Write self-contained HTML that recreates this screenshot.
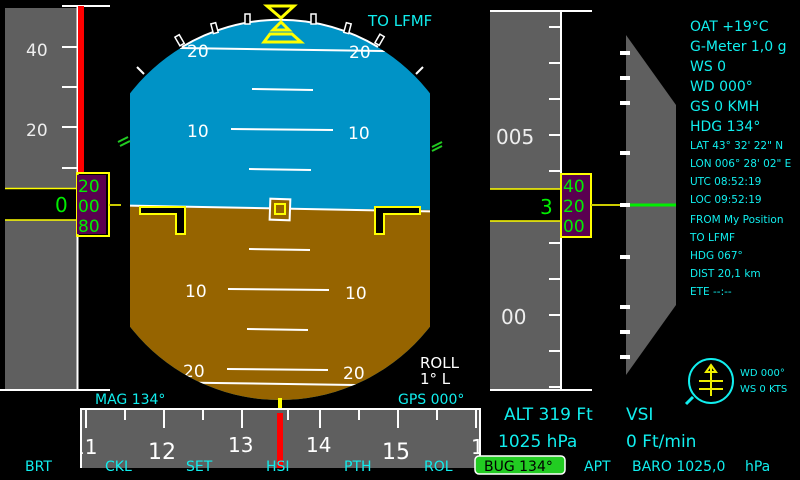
<!DOCTYPE html>
<html><head><meta charset="utf-8"><style>
html,body{margin:0;padding:0;background:#000;width:800px;height:480px;overflow:hidden}
svg{display:block}
text{font-family:"DejaVu Sans","Liberation Sans",sans-serif}
</style></head><body>
<svg width="800" height="480" viewBox="0 0 800 480" xmlns="http://www.w3.org/2000/svg">
<defs>
<clipPath id="adi"><path d="M130,0 H430 V480 H130 Z"/></clipPath>
<clipPath id="circ"><circle cx="280" cy="210" r="190"/></clipPath>
<clipPath id="hdg"><rect x="82" y="408" width="397" height="60"/></clipPath>
</defs>
<g clip-path="url(#adi)">
<g clip-path="url(#circ)">
<rect x="0" y="0" width="800" height="480" fill="#0093c6"/>
<polygon points="0,205 800,214 800,480 0,480" fill="#966400"/>
<line x1="100" y1="205" x2="460" y2="212" stroke="#fff" stroke-width="2"/>
<g stroke="#fff" stroke-width="2">
<line x1="180" y1="48" x2="385" y2="51"/>
<line x1="252" y1="89" x2="313" y2="90"/>
<line x1="231" y1="129" x2="333" y2="130"/>
<line x1="249" y1="169" x2="311" y2="170"/>
<line x1="249" y1="249" x2="310" y2="250"/>
<line x1="228" y1="289" x2="329" y2="290"/>
<line x1="247" y1="329" x2="308" y2="330"/>
<line x1="227" y1="369" x2="328" y2="370"/>
<line x1="150" y1="382" x2="420" y2="386"/>
</g>
<g fill="#fff" font-size="17">
<text x="187" y="57">20</text><text x="349" y="58">20</text>
<text x="187" y="137">10</text><text x="348" y="139">10</text>
<text x="185" y="297">10</text><text x="345" y="299">10</text>
<text x="183" y="377">20</text><text x="343" y="379">20</text>
</g>
</g>
</g>
<path d="M182,47 A190,190 0 0 1 378,47" fill="none" stroke="#fff" stroke-width="2"/>
<g fill="#000" stroke="#fff" stroke-width="1.5">
<rect x="177" y="35" width="5" height="10" transform="rotate(-30 180 40)"/>
<rect x="212" y="23" width="5" height="10" transform="rotate(-15 215 28)"/>
<rect x="245" y="14" width="5" height="10"/>
<rect x="311" y="14" width="5" height="10"/>
<rect x="345" y="23" width="5" height="10" transform="rotate(15 347 28)"/>
<rect x="377" y="35" width="5" height="10" transform="rotate(30 380 40)"/>
</g>
<line x1="137" y1="67" x2="144" y2="74" stroke="#fff" stroke-width="2"/>
<line x1="423" y1="67" x2="416" y2="74" stroke="#fff" stroke-width="2"/>
<g stroke="#2c2" stroke-width="2"><line x1="118" y1="142" x2="128" y2="137"/><line x1="120" y1="146" x2="130" y2="141"/><line x1="432" y1="147" x2="442" y2="142"/><line x1="432" y1="151" x2="442" y2="146"/></g>
<g fill="none" stroke="#ff0" stroke-width="3">
<polygon points="267,6 294,6 281,18"/>
<polygon points="281,22 289,30 273,30"/>
<polygon points="270,34 292,34 301,42 264,42"/>
</g>
<polygon points="140,207 185,207 185,234 176,234 176,214 140,214" fill="#000" stroke="#ff0" stroke-width="2"/>
<polygon points="420,207 375,207 375,234 384,234 384,214 420,214" fill="#000" stroke="#ff0" stroke-width="2"/>
<rect x="270" y="199" width="20" height="21" fill="#966400" stroke="#fff" stroke-width="2" transform="rotate(2 280 209)"/>
<rect x="275" y="204" width="10" height="10" fill="#966400" stroke="#ff0" stroke-width="2"/>
<text x="368" y="26" fill="#1ee" font-size="15">TO LFMF</text>
<text x="420" y="368" fill="#fff" font-size="15">ROLL</text>
<text x="420" y="384" fill="#fff" font-size="15">1° L</text>
<rect x="5" y="8" width="72" height="382" fill="#5f5f5f"/>
<rect x="5" y="188" width="72" height="32" fill="#000"/>
<line x1="5" y1="188.5" x2="77" y2="188.5" stroke="#ff0" stroke-width="1.5"/>
<line x1="5" y1="220" x2="77" y2="220" stroke="#ff0" stroke-width="1.5"/>
<line x1="77.5" y1="6" x2="77.5" y2="390" stroke="#fff" stroke-width="2"/>
<line x1="62" y1="6" x2="110" y2="6" stroke="#fff" stroke-width="2"/>
<line x1="0" y1="390" x2="110" y2="390" stroke="#fff" stroke-width="2"/>
<rect x="78" y="6" width="6" height="166" fill="#f00"/>
<g stroke="#fff" stroke-width="2"><line x1="62" y1="47" x2="77" y2="47"/><line x1="62" y1="87" x2="77" y2="87"/><line x1="62" y1="127" x2="77" y2="127"/><line x1="62" y1="168" x2="77" y2="168"/></g>
<text x="26" y="56" fill="#eee" font-size="17">40</text>
<text x="26" y="136" fill="#eee" font-size="17">20</text>
<text x="55" y="212" fill="#0e0" font-size="20">0</text>
<rect x="77" y="173" width="32" height="63" fill="none" stroke="#ff0" stroke-width="2"/>
<rect x="77" y="175" width="29" height="59" fill="#5a0050"/>
<g fill="#0e0" font-size="17"><text x="78" y="192">20</text><text x="78" y="212">00</text><text x="78" y="232">80</text></g>
<line x1="109" y1="205" x2="121" y2="205" stroke="#cc0" stroke-width="2"/>
<rect x="490" y="11" width="70" height="379" fill="#5f5f5f"/>
<rect x="490" y="189" width="70" height="32" fill="#000"/>
<line x1="490" y1="189" x2="560" y2="189" stroke="#ff0" stroke-width="1.5"/>
<line x1="490" y1="221" x2="560" y2="221" stroke="#ff0" stroke-width="1.5"/>
<line x1="561" y1="11" x2="561" y2="390" stroke="#fff" stroke-width="2"/>
<line x1="490" y1="11" x2="592" y2="11" stroke="#fff" stroke-width="2"/>
<line x1="490" y1="390" x2="592" y2="390" stroke="#fff" stroke-width="2"/>
<g stroke="#fff" stroke-width="2"><line x1="549" y1="27" x2="561" y2="27"/><line x1="549" y1="63" x2="561" y2="63"/><line x1="549" y1="99" x2="561" y2="99"/><line x1="549" y1="135" x2="561" y2="135"/><line x1="549" y1="171" x2="561" y2="171"/><line x1="549" y1="243" x2="561" y2="243"/><line x1="549" y1="279" x2="561" y2="279"/><line x1="549" y1="315" x2="561" y2="315"/><line x1="549" y1="351" x2="561" y2="351"/><line x1="549" y1="387" x2="561" y2="387"/></g>
<text x="496" y="144" fill="#eee" font-size="20">005</text>
<text x="501" y="324" fill="#eee" font-size="20">00</text>
<text x="540" y="214" fill="#0e0" font-size="20">3</text>
<rect x="561" y="174" width="30" height="63" fill="#5a0050" stroke="#ff0" stroke-width="2"/>
<g fill="#0e0" font-size="17"><text x="563" y="192">40</text><text x="563" y="212">20</text><text x="563" y="232">00</text></g>
<line x1="591" y1="205" x2="626" y2="205" stroke="#cc0" stroke-width="2"/>
<polygon points="626,35 676,105 676,305 626,375" fill="#5f5f5f"/>
<g stroke="#fff" stroke-width="4"><line x1="620" y1="53" x2="630" y2="53"/><line x1="620" y1="78" x2="630" y2="78"/><line x1="620" y1="103" x2="630" y2="103"/><line x1="620" y1="153" x2="630" y2="153"/><line x1="620" y1="205" x2="630" y2="205"/><line x1="620" y1="257" x2="630" y2="257"/><line x1="620" y1="307" x2="630" y2="307"/><line x1="620" y1="332" x2="630" y2="332"/><line x1="620" y1="357" x2="630" y2="357"/></g>
<line x1="630" y1="205" x2="676" y2="205" stroke="#0e0" stroke-width="3"/>
<g fill="#1ee" font-size="14"><text x="690" y="31">OAT +19°C</text><text x="690" y="51">G-Meter 1,0 g</text><text x="690" y="71">WS 0</text><text x="690" y="91">WD 000°</text><text x="690" y="111">GS 0 KMH</text><text x="690" y="131">HDG 134°</text></g>
<g fill="#1ee" font-size="10.5"><text x="690" y="149">LAT 43° 32' 22" N</text><text x="690" y="167">LON 006° 28' 02" E</text><text x="690" y="185">UTC 08:52:19</text><text x="690" y="203">LOC 09:52:19</text><text x="690" y="223">FROM My Position</text><text x="690" y="241">TO LFMF</text><text x="690" y="259">HDG 067°</text><text x="690" y="277">DIST 20,1 km</text><text x="690" y="295">ETE --:--</text></g>
<circle cx="711" cy="381" r="22" fill="none" stroke="#1ee" stroke-width="2"/>
<g stroke="#ee0" stroke-width="2" fill="none"><line x1="711" y1="366" x2="711" y2="396"/><line x1="699" y1="381" x2="723" y2="381"/><line x1="699" y1="389" x2="723" y2="389"/><polygon points="706,372 711,365 716,372"/></g>
<line x1="686" y1="404" x2="693" y2="397" stroke="#1ee" stroke-width="3"/>
<g fill="#1ee" font-size="10"><text x="740" y="376">WD 000°</text><text x="740" y="392">WS 0 KTS</text></g>
<rect x="80" y="408" width="400" height="60" fill="#5f5f5f"/>
<polyline points="81,468 81,409 480,409 480,468" fill="none" stroke="#fff" stroke-width="2"/>
<g stroke="#fff" stroke-width="2"><line x1="86" y1="409" x2="86" y2="428"/><line x1="125" y1="409" x2="125" y2="420"/><line x1="164" y1="409" x2="164" y2="428"/><line x1="203" y1="409" x2="203" y2="420"/><line x1="242" y1="409" x2="242" y2="428"/><line x1="320" y1="409" x2="320" y2="428"/><line x1="359" y1="409" x2="359" y2="420"/><line x1="398" y1="409" x2="398" y2="428"/><line x1="437" y1="409" x2="437" y2="420"/><line x1="476" y1="409" x2="476" y2="428"/><line x1="288" y1="409" x2="288" y2="420"/></g>
<g fill="#fff" clip-path="url(#hdg)"><text x="72" y="454" font-size="20">11</text><text x="148" y="459" font-size="22">12</text><text x="228" y="452" font-size="20">13</text><text x="306" y="452" font-size="20">14</text><text x="382" y="459" font-size="22">15</text><text x="471" y="454" font-size="20">16</text></g>
<rect x="80" y="468" width="400" height="12" fill="#000"/>
<rect x="277" y="413" width="6" height="55" fill="#f00"/>
<rect x="278" y="398" width="4" height="10" fill="#ff0"/>
<g fill="#1ee" font-size="14"><text x="95" y="404">MAG 134°</text><text x="398" y="404">GPS 000°</text></g>
<g fill="#1ee" font-size="17"><text x="504" y="420">ALT 319 Ft</text><text x="626" y="420">VSI</text><text x="498" y="447">1025  hPa</text><text x="626" y="447">0   Ft/min</text></g>
<rect x="475" y="456" width="90" height="18" rx="4" fill="#2c2" stroke="#fff" stroke-width="1.5"/>
<g fill="#1ee" font-size="14"><text x="25" y="471">BRT</text><text x="105" y="471">CKL</text><text x="186" y="471">SET</text><text x="266" y="471">HSI</text><text x="344" y="471">PTH</text><text x="424" y="471">ROL</text><text x="584" y="471">APT</text><text x="632" y="471">BARO 1025,0</text><text x="745" y="471">hPa</text></g>
<text x="484" y="471" fill="#000" font-size="14">BUG 134°</text>
</svg>
</body></html>
